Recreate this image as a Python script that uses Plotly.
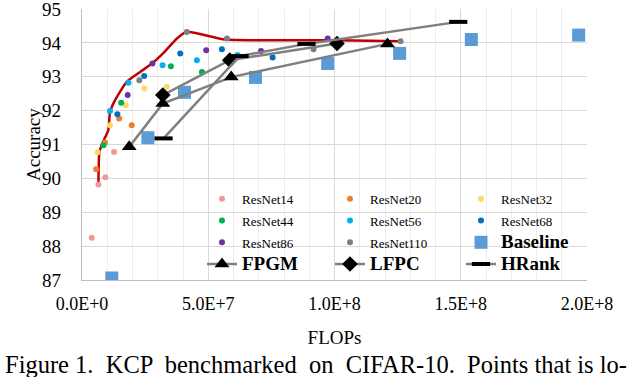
import plotly.graph_objects as go

# ---------------- data ----------------
kcp_flops = [6.5e6, 6.9e6, 8.1e6, 1.04e7, 1.11e7, 1.31e7, 1.77e7, 2.30e7, 2.77e7, 3.21e7, 3.76e7, 4.15e7, 5.67e7, 1.01e8, 1.26e8]
kcp_acc = [89.83, 90.78, 91.04, 91.42, 91.96, 92.31, 92.85, 93.14, 93.39, 93.69, 94.13, 94.33, 94.10, 94.08, 94.05]

r14_flops = [3.85e6, 6.5e6, 9.25e6, 1.27e7]
r14_acc = [88.25, 89.82, 90.03, 90.78]
r20_flops = [5.6e6, 9.1e6, 1.47e7, 1.97e7]
r20_acc = [90.27, 91.06, 91.77, 91.57]
r32_flops = [6.2e6, 1.11e7, 1.73e7, 2.47e7, 3.36e7]
r32_acc = [90.77, 91.57, 92.16, 92.65, 92.70]
r44_flops = [8.5e6, 1.55e7, 3.52e7, 4.75e7]
r44_acc = [90.98, 92.23, 93.31, 93.14]
r56_flops = [1.11e7, 1.84e7, 3.19e7, 4.55e7, 6.16e7]
r56_acc = [91.99, 92.82, 93.34, 93.49, 93.64]
r68_flops = [1.40e7, 2.46e7, 3.89e7, 5.54e7, 7.55e7]
r68_acc = [91.89, 93.02, 93.69, 93.81, 93.57]
r86_flops = [1.81e7, 2.79e7, 4.92e7, 7.09e7, 9.73e7]
r86_acc = [92.46, 93.39, 93.78, 93.76, 94.13]
r110_flops = [2.27e7, 4.15e7, 5.74e7, 9.17e7, 1.262e8]
r110_acc = [92.90, 94.32, 94.13, 93.81, 94.05]

base_flops = [1.18e7, 2.61e7, 4.06e7, 6.87e7, 9.73e7, 1.258e8, 1.542e8, 1.967e8]
base_acc = [87.06, 91.20, 92.54, 92.98, 93.39, 93.69, 94.10, 94.23]

fpgm_flops = [1.87e7, 3.20e7, 5.91e7, 1.21e8]
fpgm_acc = [90.93, 92.21, 92.99, 93.97]
lfpc_flops = [3.20e7, 5.85e7, 1.01e8]
lfpc_acc = [92.46, 93.49, 93.98]
hrank_flops = [3.23e7, 6.24e7, 8.89e7, 1.49e8]
hrank_acc = [91.18, 93.61, 93.97, 94.62]

x_tickvals = [0, 5e7, 1e8, 1.5e8, 2e8]
x_ticktext = ["0.0E+0", "5.0E+7", "1.0E+8", "1.5E+8", "2.0E+8"]
y_tickvals = [87, 88, 89, 90, 91, 92, 93, 94, 95]

FONT = "Liberation Serif"

fig = go.Figure()

# red frontier line
fig.add_trace(go.Scatter(x=kcp_flops, y=kcp_acc, mode="lines",
                         line=dict(color="#C00000", width=2.5, shape="spline", smoothing=0.5),
                         showlegend=False, hoverinfo="skip"))

def small(t):
    return "<span style='font-size:13px'>" + t + "</span>"

def big(t):
    return "<b><span style='font-size:19px'>" + t + "</span></b>"

series = [
    ("ResNet14", r14_flops, r14_acc, "#F4979B", "legend"),
    ("ResNet20", r20_flops, r20_acc, "#ED7D31", "legend2"),
    ("ResNet32", r32_flops, r32_acc, "#FFD966", "legend3"),
    ("ResNet44", r44_flops, r44_acc, "#00B050", "legend"),
    ("ResNet56", r56_flops, r56_acc, "#00B0F0", "legend2"),
    ("ResNet68", r68_flops, r68_acc, "#0070C0", "legend3"),
    ("ResNet86", r86_flops, r86_acc, "#7030A0", "legend"),
    ("ResNet110", r110_flops, r110_acc, "#7F7F7F", "legend2"),
]
for name, xs, ys, col, lg in series:
    fig.add_trace(go.Scatter(x=xs, y=ys, mode="markers", name=small(name),
                             marker=dict(color=col, size=6), legend=lg))

fig.add_trace(go.Scatter(x=base_flops, y=base_acc, mode="markers", name=big("Baseline"),
                         marker=dict(color="#5B9BD5", size=13, symbol="square"), legend="legend3"))

fig.add_trace(go.Scatter(x=fpgm_flops, y=fpgm_acc, mode="lines+markers", name=big("FPGM"),
                         line=dict(color="#7F7F7F", width=2.5),
                         marker=dict(color="black", size=13, symbol="triangle-up"), legend="legend"))
fig.add_trace(go.Scatter(x=lfpc_flops, y=lfpc_acc, mode="lines+markers", name=big("LFPC"),
                         line=dict(color="#7F7F7F", width=2.5),
                         marker=dict(color="black", size=12, symbol="diamond"), legend="legend2"))
fig.add_trace(go.Scatter(x=hrank_flops, y=hrank_acc, mode="lines+markers", name=big("HRank"),
                         line=dict(color="#7F7F7F", width=2.5),
                         marker=dict(color="black", size=13, symbol="line-ew",
                                     line=dict(color="black", width=4)), legend="legend3"))

W, H = 640, 377
L, R, T, B = 82, 53, 9, 97
pw = W - L - R
ph = H - T - B

def px2x(px):
    return (px - L) / pw

def py2y(py):
    return (H - B - py) / ph

leg_common = dict(bgcolor="rgba(0,0,0,0)", font=dict(family=FONT, size=14.4, color="black"),
                  yanchor="top", xanchor="left", y=py2y(183), tracegroupgap=0)

fig.update_layout(
    width=W, height=H,
    margin=dict(l=L, r=R, t=T, b=B, autoexpand=False),
    paper_bgcolor="white", plot_bgcolor="white",
    font=dict(family=FONT, color="black"),
    legend=dict(x=px2x(202), **leg_common),
    legend2=dict(x=px2x(330), **leg_common),
    legend3=dict(x=px2x(461), **leg_common),
    xaxis=dict(range=[0, 2e8], tickvals=x_tickvals, ticktext=x_ticktext, automargin=False,
               showgrid=True, gridcolor="#D9D9D9", gridwidth=1.3,
               minor=dict(dtick=1e7, showgrid=True, gridcolor="#EDEDED", gridwidth=1),
               showline=True, linecolor="#BFBFBF", linewidth=1.3, mirror=False,
               zeroline=False, ticks="", tickfont=dict(family=FONT, size=18, color="black"),
               ticklabelstandoff=7, ticklabeloverflow="allow",
               title=dict(text="FLOPs", font=dict(family=FONT, size=19, color="black"), standoff=17)),
    yaxis=dict(range=[87, 95], tickvals=y_tickvals, automargin=False,
               showgrid=True, gridcolor="#D9D9D9", gridwidth=1.3,
               showline=True, linecolor="#BFBFBF", linewidth=1.3,
               zeroline=False, ticks="", tickfont=dict(family=FONT, size=19, color="black"),
               ticklabelstandoff=16, ticklabeloverflow="allow"),
    annotations=[
        dict(text="Accuracy", textangle=-90, xref="paper", yref="paper",
             x=px2x(33), y=py2y(145), xanchor="center", yanchor="middle", showarrow=False,
             font=dict(family=FONT, size=19, color="black")),
        dict(text="Figure 1.  KCP  benchmarked  on  CIFAR-10.  Points that is lo-",
             xref="paper", yref="paper", x=px2x(3), y=py2y(364),
             xanchor="left", yanchor="middle", showarrow=False,
             font=dict(family=FONT, size=24.5, color="black")),
    ],
    showlegend=True,
)

fig.write_html("out.html", config={"displayModeBar": False},
               post_script="document.body.style.margin='0';")
